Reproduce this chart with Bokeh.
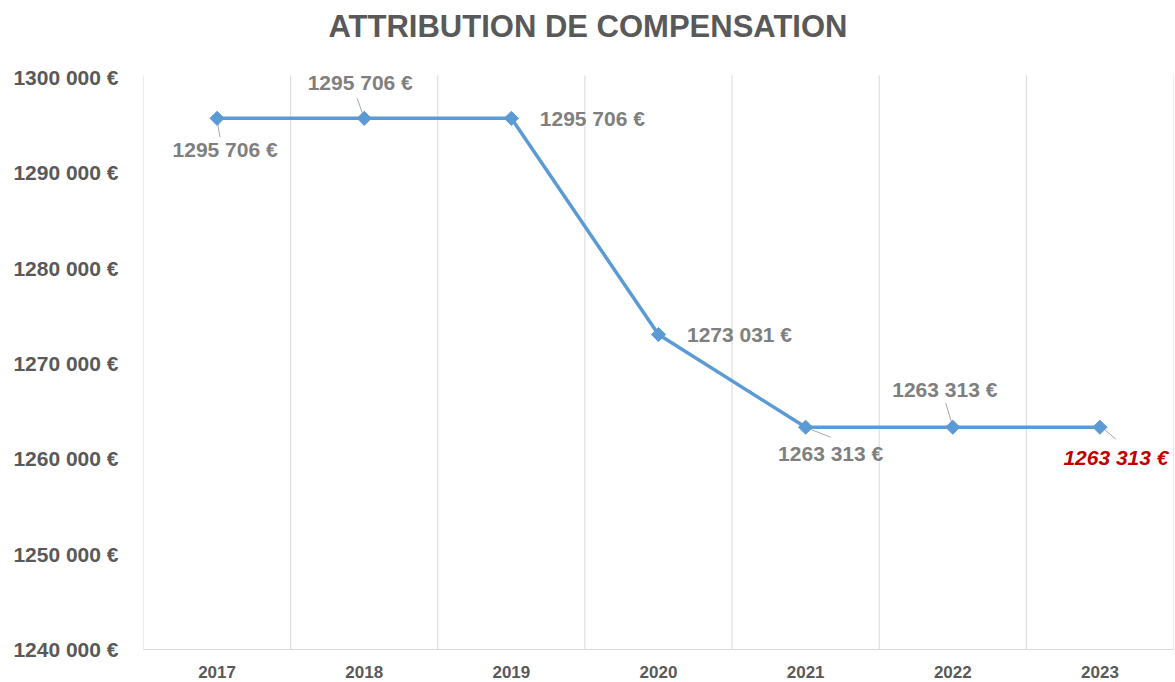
import math
from bokeh.plotting import figure
from bokeh.models import FixedTicker, Range1d, ColumnDataSource
from bokeh.core.properties import value
from bokeh.embed import file_html
from bokeh.resources import INLINE

# ---- data ----
years = ["2017", "2018", "2019", "2020", "2021", "2022", "2023"]
amounts = [1295706, 1295706, 1295706, 1273031, 1263313, 1263313, 1263313]
y_ticks = [1240000, 1250000, 1260000, 1270000, 1280000, 1290000, 1300000]
title_text = "ATTRIBUTION DE COMPENSATION"

# ---- styling ----
label_dx = [8, -4, 81, 81, 25, -8, 16]
label_dy = [31, -36, 0, 0, 26, -38, 30]
label_colors = ["#7f7f7f"] * 6 + ["#c00000"]
label_styles = ["bold"] * 6 + ["bold italic"]
# leader lines (pixel offsets from point: start dx,dy ; end dx,dy), None = no leader
leaders = [(0, 2, 3, 19), (-7, -20, -1, -3), None, None, (2, 1, 25, 10), (-7, -24, -1, -4), (3, 1, 16, 12)]

W, H = 1175, 680
ML, MR, MT, MB = 143, 2, 50, 30
FW, FH = W - ML - MR, H - MT - MB
AXIS_PX = 574          # pixel span between lowest and highest y tick
TOP_PAD_PX = 26        # pixels between frame top and the highest y tick
GRID_TOP_PX = 2        # grid lines start this many px above the highest tick
Y0 = y_ticks[0]
unit = (y_ticks[-1] - y_ticks[0]) / AXIS_PX
Y1 = y_ticks[-1] + TOP_PAD_PX * unit

def fmt(v):
    return f"{v // 1000} {v % 1000:03d} €"

xs = list(range(len(years)))

p = figure(width=W, height=H, output_backend="svg", toolbar_location=None,
           x_range=Range1d(-0.5, len(years) - 0.5), y_range=Range1d(Y0, Y1),
           min_border_left=ML, min_border_right=MR, min_border_top=MT, min_border_bottom=MB,
           title=title_text)
p.outline_line_color = None
p.background_fill_color = "white"
p.border_fill_color = "white"

p.title.align = "left"
p.title.offset = 185
p.title.vertical_align = "middle"
p.title.standoff = 14
p.title.text_font = "Liberation Sans"
p.title.text_font_style = "bold"
p.title.text_font_size = "31px"
p.title.text_color = "#595959"

# x axis (bottom)
xa = p.below[0]
xa.ticker = FixedTicker(ticks=xs)
xa.major_label_overrides = {i: y for i, y in enumerate(years)}
xa.axis_line_color = "#d9d9d9"
xa.major_tick_line_color = None
xa.minor_tick_line_color = None
xa.major_label_text_font = "Liberation Sans"
xa.major_label_text_font_style = "bold"
xa.major_label_text_font_size = "17px"
xa.major_label_text_color = "#595959"
xa.major_label_standoff = 10

# y axis
ya = p.left[0]
ya.ticker = FixedTicker(ticks=y_ticks)
ya.major_label_overrides = {v: fmt(v) for v in y_ticks}
ya.axis_line_color = None
ya.major_tick_line_color = None
ya.minor_tick_line_color = None
ya.major_label_text_font = "Liberation Sans"
ya.major_label_text_font_style = "bold"
ya.major_label_text_font_size = "21px"
ya.major_label_text_color = "#595959"
ya.major_label_standoff = 19

# grids: no horizontal lines; vertical lines between categories, up to just above the top tick
p.ygrid.grid_line_color = None
p.xgrid.grid_line_color = None
bounds = [i - 0.5 for i in range(len(years) + 1)]
grid_top = y_ticks[-1] + GRID_TOP_PX * unit
p.segment(x0=bounds, y0=[Y0] * len(bounds), x1=bounds, y1=[grid_top] * len(bounds),
          line_color="#d9d9d9", line_width=1)

# leader lines
px_x = FW / (len(years))
px_y = 1 / unit
sx0, sy0, sx1, sy1 = [], [], [], []
for i, ld in enumerate(leaders):
    if ld is None:
        continue
    a, b, c, d = ld
    sx0.append(xs[i] + a / px_x)
    sy0.append(amounts[i] - b / px_y)
    sx1.append(xs[i] + c / px_x)
    sy1.append(amounts[i] - d / px_y)
p.segment(sx0, sy0, sx1, sy1, line_color="#a6a6a6", line_width=1)

# line + markers
p.line(xs, amounts, line_color="#5b9bd5", line_width=3.5)
p.scatter(xs, amounts, marker="square", angle=math.pi / 4, size=10,
          fill_color="#5b9bd5", line_color="#5b9bd5")

# data labels
src = ColumnDataSource(dict(x=xs, y=amounts, t=[fmt(v) for v in amounts],
                            dx=label_dx, dy=label_dy, c=label_colors, s=label_styles))
p.text(x="x", y="y", text="t", x_offset="dx", y_offset="dy", text_color="c",
       text_font_style="s", text_font=value("Liberation Sans"), text_font_size="21px",
       text_align="center", text_baseline="middle", source=src)

open("out.html", "w").write(file_html(p, INLINE))
